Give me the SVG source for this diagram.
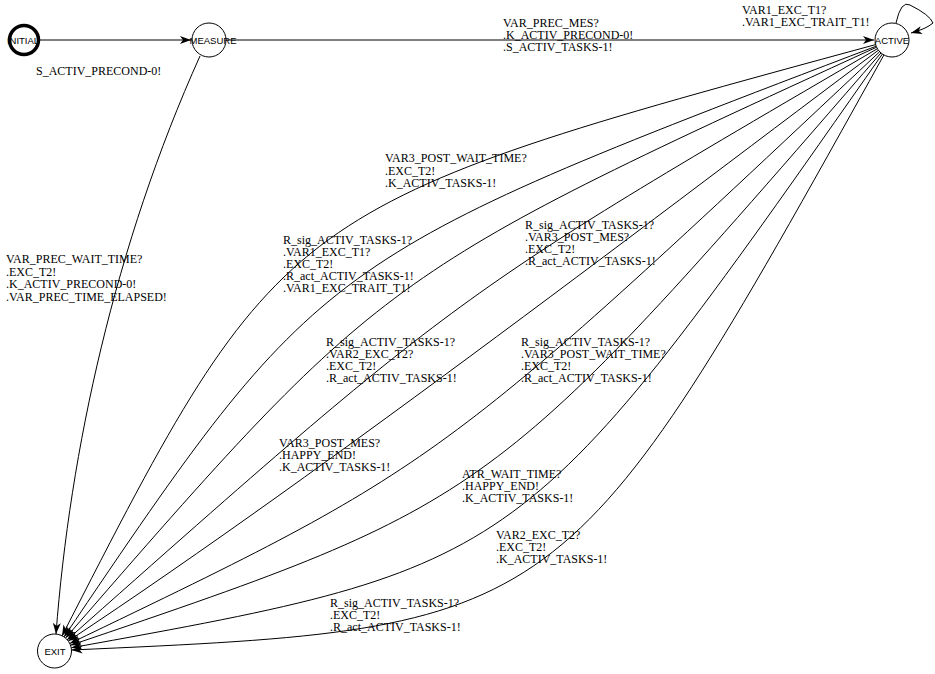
<svg xmlns="http://www.w3.org/2000/svg" width="935" height="674" viewBox="0 0 935 674">
<style>
.node circle{fill:#fff;stroke:#000;stroke-width:1}
.node text{font-family:"Liberation Sans",Arial,sans-serif;font-size:9.5px;text-anchor:middle;fill:#000}
.edges path{fill:none;stroke:#000;stroke-width:1;marker-end:url(#ah)}
.lbl{font-family:"Liberation Serif","Times New Roman",serif;font-size:12px;fill:#000}
</style>
<defs>
<marker id="ah" markerWidth="12" markerHeight="9" refX="11" refY="4" orient="auto" markerUnits="userSpaceOnUse"><path d="M0,0 L11,4 L0,8 L3,4 Z" fill="#000"/></marker>
</defs>
<rect width="935" height="674" fill="#fff"/>
<g class="edges" id="connectors">
<path d="M40,40 L191,40"/>
<path d="M226,40 L874,40"/>
<path d="M896,23 Q901,0 910,5 Q930,15 933,23 Q926,29 911,33"/>
<path d="M200,56 C115,245 70,450 56,634"/>
<path d="M875.6,44.6 C282,206 282,206 62,636"/>
<path d="M876.2,46.2 C320,258 320,258 64,637"/>
<path d="M876.6,47.2 C382,274 382,274 65.6,638"/>
<path d="M877.4,48.7 C457,294 457,294 67,640"/>
<path d="M878.4,50.2 C678,200 330,468 68.3,641"/>
<path d="M879.7,51.7 C439,466 439,466 69.7,643.5"/>
<path d="M881,52.9 C492,502 492,502 70.5,645.3"/>
<path d="M882.4,54 C524,566 524,566 71.2,647.8"/>
<path d="M883.9,55 C565,628 565,628 71.5,650"/>
</g>
<g id="labels">
<text class="lbl" x="36" y="75">S_ACTIV_PRECOND-0!</text>
<text class="lbl" x="503" y="27">VAR_PREC_MES?</text>
<text class="lbl" x="503" y="39">.K_ACTIV_PRECOND-0!</text>
<text class="lbl" x="503" y="51">.S_ACTIV_TASKS-1!</text>
<text class="lbl" x="742" y="14">VAR1_EXC_T1?</text>
<text class="lbl" x="742" y="26">.VAR1_EXC_TRAIT_T1!</text>
<text class="lbl" x="6" y="263">VAR_PREC_WAIT_TIME?</text>
<text class="lbl" x="6" y="275.5">.EXC_T2!</text>
<text class="lbl" x="6" y="288">.K_ACTIV_PRECOND-0!</text>
<text class="lbl" x="6" y="300.5">.VAR_PREC_TIME_ELAPSED!</text>
<text class="lbl" x="385" y="162">VAR3_POST_WAIT_TIME?</text>
<text class="lbl" x="385" y="174.5">.EXC_T2!</text>
<text class="lbl" x="385" y="187">.K_ACTIV_TASKS-1!</text>
<text class="lbl" x="283" y="244">R_sig_ACTIV_TASKS-1?</text>
<text class="lbl" x="283" y="256">.VAR1_EXC_T1?</text>
<text class="lbl" x="283" y="268">.EXC_T2!</text>
<text class="lbl" x="283" y="280">.R_act_ACTIV_TASKS-1!</text>
<text class="lbl" x="283" y="292">.VAR1_EXC_TRAIT_T1!</text>
<text class="lbl" x="525" y="229">R_sig_ACTIV_TASKS-1?</text>
<text class="lbl" x="525" y="241">.VAR3_POST_MES?</text>
<text class="lbl" x="525" y="253">.EXC_T2!</text>
<text class="lbl" x="525" y="265">.R_act_ACTIV_TASKS-1!</text>
<text class="lbl" x="326" y="346">R_sig_ACTIV_TASKS-1?</text>
<text class="lbl" x="326" y="358">.VAR2_EXC_T2?</text>
<text class="lbl" x="326" y="370">.EXC_T2!</text>
<text class="lbl" x="326" y="382">.R_act_ACTIV_TASKS-1!</text>
<text class="lbl" x="521" y="346">R_sig_ACTIV_TASKS-1?</text>
<text class="lbl" x="521" y="358">.VAR3_POST_WAIT_TIME?</text>
<text class="lbl" x="521" y="370">.EXC_T2!</text>
<text class="lbl" x="521" y="382">.R_act_ACTIV_TASKS-1!</text>
<text class="lbl" x="279" y="447">VAR3_POST_MES?</text>
<text class="lbl" x="279" y="459">.HAPPY_END!</text>
<text class="lbl" x="279" y="471">.K_ACTIV_TASKS-1!</text>
<text class="lbl" x="462" y="478">ATR_WAIT_TIME?</text>
<text class="lbl" x="462" y="490">.HAPPY_END!</text>
<text class="lbl" x="462" y="502">.K_ACTIV_TASKS-1!</text>
<text class="lbl" x="496" y="539">VAR2_EXC_T2?</text>
<text class="lbl" x="496" y="551">.EXC_T2!</text>
<text class="lbl" x="496" y="563">.K_ACTIV_TASKS-1!</text>
<text class="lbl" x="330" y="607">R_sig_ACTIV_TASKS-1?</text>
<text class="lbl" x="330" y="619">.EXC_T2!</text>
<text class="lbl" x="330" y="631">.R_act_ACTIV_TASKS-1!</text>
</g>
<g class="node" id="node-INITIAL">
<circle cx="24" cy="40" r="14.5" style="stroke-width:3.5"/>
<text x="23" y="43.5">INITIAL</text>
</g>
<g class="node" id="node-MEASURE">
<circle cx="209" cy="40" r="17"/>
<text x="213" y="43.5">MEASURE</text>
</g>
<g class="node" id="node-ACTIVE">
<circle cx="892" cy="40" r="17"/>
<text x="892" y="43.5">ACTIVE</text>
</g>
<g class="node" id="node-EXIT">
<circle cx="54.5" cy="651" r="17"/>
<text x="55" y="654.5">EXIT</text>
</g>
</svg>
